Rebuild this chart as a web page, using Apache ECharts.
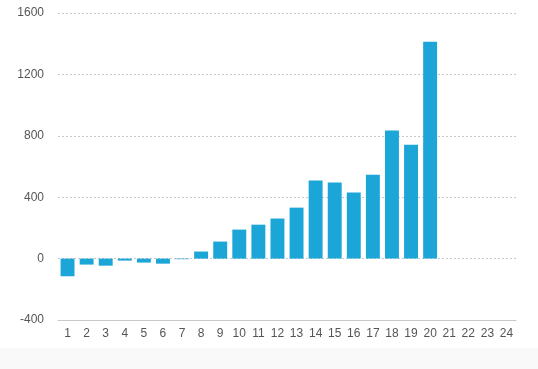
<!DOCTYPE html>
<html><head><meta charset="utf-8">
<script src="https://cdn.jsdelivr.net/npm/echarts@6/dist/echarts.min.js"></script>
<style>html,body{margin:0;padding:0;background:#fff}#c{width:538px;height:369px}</style>
</head><body><div id="c"></div>
<script>
const categories = ['1','2','3','4','5','6','7','8','9','10','11','12','13','14','15','16','17','18','19','20','21','22','23','24'];
const values = [-115,-39,-46,-13,-26,-33,-4,46,111,189,221,261,332,508,495,430,547,834,742,1413,null,null,null,null];
const chart = echarts.init(document.getElementById('c'));
chart.setOption({
  animation:false,
  graphic:[{type:'rect',left:0,top:348,shape:{width:538,height:21},style:{fill:'#f9f9f9'},silent:true,z:-10}],
  grid:{left:58,right:22,top:13,bottom:49},
  xAxis:{type:'category',data:categories,
    axisLine:{onZero:false,lineStyle:{color:'#c8c8c8'}},axisTick:{show:false},
    axisLabel:{color:'#555',fontSize:12,fontFamily:'Liberation Sans, Arial, sans-serif',margin:8,interval:0}},
  yAxis:{type:'value',min:-400,max:1600,interval:400,
    axisLine:{show:false},axisTick:{show:false},
    axisLabel:{color:'#555',fontSize:12,fontFamily:'Liberation Sans, Arial, sans-serif',margin:14,formatter:function(v){return String(v);}},
    splitLine:{lineStyle:{color:'#c8c8c8',type:[2,2]}}},
  series:[{type:'bar',data:values,barCategoryGap:'27%',itemStyle:{color:'#1ca5d7'}}]
});
</script></body></html>
